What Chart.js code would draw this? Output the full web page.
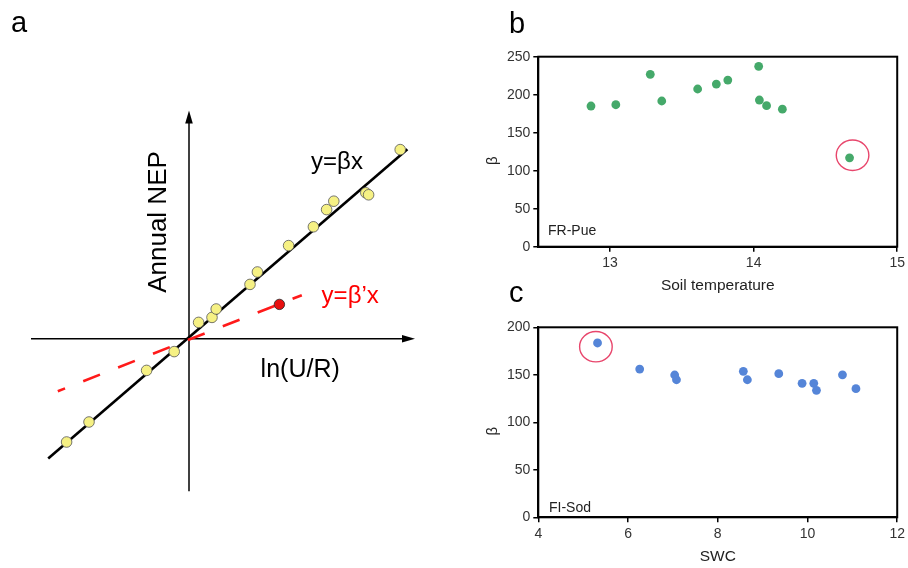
<!DOCTYPE html>
<html><head><meta charset="utf-8">
<script src="https://cdn.jsdelivr.net/npm/chart.js@4"></script>
<style>
html,body{margin:0;padding:0;background:#fff;width:908px;height:568px;overflow:hidden;}
canvas{position:absolute;}
#a{left:0;top:0;}
#b{left:470px;top:0;}
#c{left:470px;top:280px;}
</style></head><body>
<canvas id="a" width="440" height="568"></canvas>
<canvas id="b" width="438" height="300"></canvas>
<canvas id="c" width="438" height="288"></canvas>
<script>
// ---------- Panel a (schematic, arbitrary units) ----------
const nepX = [-3.06,-2.50,-1.06,-0.37,0.24,0.575,0.68,1.525,1.71,2.49,3.11,3.44,3.62,4.42,4.49,5.28];
const nepY = [-2.58,-2.08,-0.79,-0.32,0.41,0.535,0.745,1.36,1.67,2.33,2.80,3.23,3.44,3.65,3.60,4.73];
const outlierX = [2.26];
const outlierY = [0.86];
const fitLineX = [-3.52, 5.46];
const fitLineY = [-2.99, 4.74];
const dashLineX = [-3.28, 2.82];
const dashLineY = [-1.31, 1.09];
const axisXRange = [-3.95, 5.65];
const axisYRange = [-3.81, 5.71];

// ---------- Panel b (FR-Pue) ----------
const soilTemp = [12.867,13.04,13.28,13.36,13.61,13.74,13.82,14.035,14.04,14.09,14.20,14.668];
const betaPue  = [185.1,186.8,226.8,191.7,207.5,214.0,219.3,237.3,193.0,185.5,181.0,117.0];
const circleB  = {x:14.689, y:120.3};
const xTicksB = [13,14,15];
const yTicksB = [0,50,100,150,200,250];

// ---------- Panel c (FI-Sod) ----------
const swc     = [5.32,6.26,7.04,7.08,8.57,8.66,9.36,9.88,10.14,10.20,10.78,11.08];
const betaSod = [183.5,156.0,149.8,144.8,153.7,144.8,151.2,141.0,141.0,133.7,150.0,135.4];
const circleC = {x:5.284, y:179.6};
const xTicksC = [4,6,8,10,12];
const yTicksC = [0,50,100,150,200];

const F = '"Liberation Sans", Arial, sans-serif';
const pts = (xs, ys) => xs.map((x,i)=>({x, y:ys[i]}));

// ---------- Panel a chart ----------
const schematic = {
  id:'schematic',
  beforeDatasetsDraw(chart){
    const {ctx, scales:{x, y}} = chart;
    const ox = x.getPixelForValue(0), oy = y.getPixelForValue(0);
    ctx.save();
    ctx.strokeStyle = '#000'; ctx.fillStyle = '#000'; ctx.lineWidth = 1.5;
    const x0 = x.getPixelForValue(axisXRange[0]), x1 = x.getPixelForValue(axisXRange[1]);
    const y0 = y.getPixelForValue(axisYRange[0]), y1 = y.getPixelForValue(axisYRange[1]);
    ctx.beginPath(); ctx.moveTo(x0, oy); ctx.lineTo(x1-8, oy); ctx.stroke();
    ctx.beginPath(); ctx.moveTo(ox, y0); ctx.lineTo(ox, y1+8); ctx.stroke();
    ctx.beginPath(); ctx.moveTo(x1, oy); ctx.lineTo(x1-13, oy-3.8); ctx.lineTo(x1-13, oy+3.8); ctx.closePath(); ctx.fill();
    ctx.beginPath(); ctx.moveTo(ox, y1); ctx.lineTo(ox-3.8, y1+13); ctx.lineTo(ox+3.8, y1+13); ctx.closePath(); ctx.fill();
    ctx.restore();
  },
  afterDraw(chart){
    const {ctx, scales:{x, y}} = chart;
    ctx.save();
    ctx.textAlign = 'center'; ctx.textBaseline = 'middle';
    ctx.fillStyle = '#000';
    ctx.font = `24px ${F}`;
    ctx.fillText('y=βx', x.getPixelForValue(3.7), y.getPixelForValue(4.42));
    ctx.font = `25px ${F}`;
    ctx.fillText('ln(U/R)', x.getPixelForValue(2.78), y.getPixelForValue(-0.78));
    ctx.fillStyle = '#ff0000';
    ctx.font = `24px ${F}`;
    ctx.fillText('y=β’x', x.getPixelForValue(4.03), y.getPixelForValue(1.07));
    ctx.fillStyle = '#000';
    ctx.font = `26px ${F}`;
    ctx.translate(x.getPixelForValue(-0.75), y.getPixelForValue(2.92));
    ctx.rotate(-Math.PI/2);
    ctx.fillText('Annual NEP', 0, 0);
    ctx.restore();
    ctx.save();
    ctx.fillStyle = '#000'; ctx.font = `29px ${F}`; ctx.textBaseline = 'alphabetic'; ctx.textAlign = 'left';
    ctx.fillText('a', 11, 32);
    ctx.restore();
  }
};

new Chart(document.getElementById('a'), {
  type:'scatter',
  data:{datasets:[
    {data: pts(outlierX, outlierY), backgroundColor:'#e81010', borderColor:'#222', borderWidth:0.8, pointRadius:5.2, pointHoverRadius:5.2},
    {data: pts(nepX, nepY), backgroundColor:'#f6f184', borderColor:'#555', borderWidth:0.8, pointRadius:5.3, pointHoverRadius:5.3},
    {data: pts(dashLineX, dashLineY), showLine:true, borderColor:'#ff1a1a', borderWidth:2.6, borderDash:[18,19.5], borderDashOffset:10.2, pointRadius:0},
    {data: pts(fitLineX, fitLineY), showLine:true, borderColor:'#000', borderWidth:2.6, pointRadius:0}
  ]},
  options:{
    responsive:false, animation:false, events:[], devicePixelRatio:1,
    layout:{padding:0, autoPadding:false},
    plugins:{legend:{display:false}, tooltip:{enabled:false}},
    scales:{
      x:{type:'linear', display:false, min:-4.725, max:6.275},
      y:{type:'linear', display:false, min:-5.73, max:8.47}
    }
  },
  plugins:[schematic]
});

// ---------- Panels b / c ----------
function decor(letter, letterY, site, siteX, siteY, circ){
  return {
    id:'decor'+letter,
    afterDraw(chart){
      const {ctx, chartArea:a, scales:{x, y}} = chart;
      ctx.save();
      ctx.strokeStyle = '#000'; ctx.lineWidth = 2;
      ctx.strokeRect(a.left, a.top, a.right-a.left, a.bottom-a.top);
      ctx.strokeStyle = '#e8466c'; ctx.lineWidth = 1.4;
      ctx.beginPath();
      ctx.ellipse(x.getPixelForValue(circ.x), y.getPixelForValue(circ.y), 16.3, 15.2, 0, 0, Math.PI*2);
      ctx.stroke();
      ctx.fillStyle = '#222'; ctx.font = `14px ${F}`; ctx.textAlign = 'left'; ctx.textBaseline = 'alphabetic';
      ctx.fillText(site, siteX, siteY);
      ctx.fillStyle = '#000'; ctx.font = `29px ${F}`;
      ctx.fillText(letter, 39, letterY);
      // rotated beta axis title
      ctx.fillStyle = '#222'; ctx.font = `15px ${F}`; ctx.textAlign = 'center'; ctx.textBaseline = 'middle';
      ctx.translate(23, (a.top + a.bottom)/2 + 9);
      ctx.rotate(-Math.PI/2);
      ctx.fillText('β', 0, 0);
      ctx.restore();
    }
  };
}

function axisCommon(){
  return {
    grid:{drawOnChartArea:false, drawTicks:true, tickLength:5, color:'#000', lineWidth:1.5},
    border:{display:true, color:'#000', width:2},
  };
}

function makePanel(id, xs, ys, color, xMin, xMax, xTicks, yMax, yTicks, xTitle, padTop, padRight, xAxisH, yAxisW, xTitlePadB, plug){
  return new Chart(document.getElementById(id), {
    type:'scatter',
    data:{datasets:[{data: pts(xs, ys), backgroundColor:color, borderColor:color, borderWidth:0, pointRadius:4.4, pointHoverRadius:4.4}]},
    options:{
      responsive:false, animation:false, events:[], devicePixelRatio:1,
      layout:{padding:{left:0, right:padRight, top:padTop, bottom:0}, autoPadding:false},
      plugins:{legend:{display:false}, tooltip:{enabled:false}},
      scales:{
        x:Object.assign(axisCommon(), {
          type:'linear', min:xMin, max:xMax,
          afterBuildTicks:s=>{ s.ticks = xTicks.map(v=>({value:v})); },
          afterFit:s=>{ s.height = xAxisH; },
          ticks:{color:'#333', font:{family:F, size:14}, padding:3, maxRotation:0, autoSkip:false},
          title:{display:true, text:xTitle, color:'#222', font:{family:F, size:15.5}, padding:{top:0, bottom:xTitlePadB}}
        }),
        y:Object.assign(axisCommon(), {
          type:'linear', min:0, max:yMax,
          afterBuildTicks:s=>{ s.ticks = yTicks.map(v=>({value:v})); },
          afterFit:s=>{ s.width = yAxisW; },
          ticks:{color:'#333', font:{family:F, size:14}, padding:3, autoSkip:false},
          title:{display:false}
        })
      }
    },
    plugins:[plug]
  });
}

makePanel('b', soilTemp, betaPue, '#45a96a', 12.5, 15, xTicksB, 250, yTicksB, 'Soil temperature',
  56.7, 10.3, 53.3, 68.3, 5, decor('b', 33, 'FR-Pue', 78, 235, circleB));
makePanel('c', swc, betaSod, '#5585d8', 4, 12, xTicksC, 200, yTicksC, 'SWC',
  47.3, 10.3, 50.7, 68.3, 2, decor('c', 22, 'FI-Sod', 79, 232, circleC));
</script>
</body></html>
